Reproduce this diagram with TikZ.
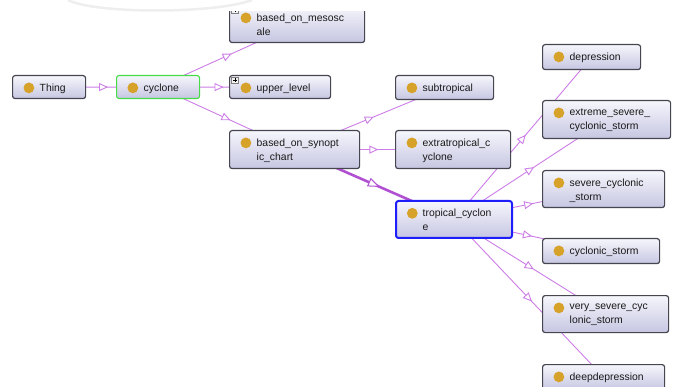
\documentclass[tikz,border=0pt]{standalone}
\usepackage{fontspec}
\setmainfont{Liberation Sans}
\usetikzlibrary{arrows.meta,decorations.markings}
\pgfdeclarelayer{background}
\pgfsetlayers{background,main}
\definecolor{bordc}{RGB}{70,70,80}
\definecolor{topc}{RGB}{246,246,252}
\definecolor{botc}{RGB}{198,198,226}
\definecolor{goldc}{RGB}{214,162,42}
\definecolor{edgec}{RGB}{204,125,230}
\definecolor{thickc}{RGB}{178,80,210}
\definecolor{greenc}{RGB}{70,220,70}
\definecolor{bluec}{RGB}{30,30,250}
\tikzset{
  cls/.style={draw=bordc, line width=1.2pt, rounded corners=2.5pt,
    top color=topc, bottom color=botc, anchor=north west, inner sep=0pt,
    path picture={\fill[goldc] ([xshift=16.3pt,yshift=-12.3pt]path picture bounding box.north west) circle (5.4pt);}},
  lbl/.style={anchor=north west, inner sep=0pt, align=left,
    font=\fontsize{10.4}{14.5}\selectfont, text=black!90,
    execute at begin node={\rule{0pt}{8pt}}},
  isa/.style={draw=edgec, line width=0.9pt, postaction={decorate},
    decoration={markings, mark=at position 0.5 with
      {\arrow[xshift=4.5pt]{Triangle[length=9pt,width=8pt,fill=white,line width=0.9pt]}}}},
  isathick/.style={draw=thickc, line width=2.6pt, postaction={decorate},
    decoration={markings, mark=at position 0.5 with
      {\arrow[xshift=6pt]{Triangle[length=12pt,width=9pt,fill=white,line width=1pt]}}}},
  plusbox/.style={draw=gray, fill=gray!10, line width=0.5pt}
}
\begin{document}
\begin{tikzpicture}[x=1pt,y=-1pt]
\useasboundingbox (0,0) rectangle (677,387);
% boxes
\node[cls, minimum width=73pt, minimum height=23pt] (thing) at (12,75) {};
\node[cls, draw=greenc, line width=1.1pt, minimum width=83pt, minimum height=23pt] (cyclone) at (116,75) {};
\node[cls, minimum width=135pt, minimum height=37pt] (meso) at (229,5) {};
\node[cls, minimum width=101pt, minimum height=23pt] (upper) at (229,75) {};
\node[cls, minimum width=130pt, minimum height=38pt] (synop) at (229,130) {};
\node[cls, minimum width=98pt, minimum height=24pt] (subtrop) at (395,75) {};
\node[cls, minimum width=115pt, minimum height=38pt] (extra) at (395,130) {};
\node[cls, draw=bluec, line width=2pt, minimum width=116pt, minimum height=37pt] (trop) at (395,200) {};
\node[cls, minimum width=98pt, minimum height=25pt] (depr) at (542,44) {};
\node[cls, minimum width=128pt, minimum height=38pt] (extreme) at (542,100) {};
\node[cls, minimum width=122pt, minimum height=37pt] (severe) at (542,170) {};
\node[cls, minimum width=117pt, minimum height=25pt] (cycstorm) at (542,238) {};
\node[cls, minimum width=126pt, minimum height=37pt] (vsevere) at (542,295) {};
\node[cls, minimum width=122pt, minimum height=25pt] (deep) at (542,364) {};
% labels
\node[lbl] (thing-t) at ([xshift=27.5pt,yshift=-8.5pt]thing.north west) {Thing};
\node[lbl] (cyclone-t) at ([xshift=27.5pt,yshift=-8.5pt]cyclone.north west) {cyclone};
\node[lbl] (meso-t) at ([xshift=27.5pt,yshift=-8.5pt]meso.north west) {based\_on\_mesosc\\ale};
\node[lbl] (upper-t) at ([xshift=27.5pt,yshift=-8.5pt]upper.north west) {upper\_level};
\node[lbl] (synop-t) at ([xshift=27.5pt,yshift=-8.5pt]synop.north west) {based\_on\_synopt\\ic\_chart};
\node[lbl] (subtrop-t) at ([xshift=27.5pt,yshift=-8.5pt]subtrop.north west) {subtropical};
\node[lbl] (extra-t) at ([xshift=27.5pt,yshift=-8.5pt]extra.north west) {extratropical\_c\\yclone};
\node[lbl] (trop-t) at ([xshift=27.5pt,yshift=-8.5pt]trop.north west) {tropical\_cyclon\\e};
\node[lbl] (depr-t) at ([xshift=27.5pt,yshift=-8.5pt]depr.north west) {depression};
\node[lbl] (extreme-t) at ([xshift=27.5pt,yshift=-8.5pt]extreme.north west) {extreme\_severe\_\\cyclonic\_storm};
\node[lbl] (severe-t) at ([xshift=27.5pt,yshift=-8.5pt]severe.north west) {severe\_cyclonic\\\_storm};
\node[lbl] (cycstorm-t) at ([xshift=27.5pt,yshift=-8.5pt]cycstorm.north west) {cyclonic\_storm};
\node[lbl] (vsevere-t) at ([xshift=27.5pt,yshift=-8.5pt]vsevere.north west) {very\_severe\_cyc\\lonic\_storm};
\node[lbl] (deep-t) at ([xshift=27.5pt,yshift=-8.5pt]deep.north west) {deepdepression};
% plus icons
\foreach \b in {upper,meso}{
  \draw[plusbox] ([shift={(2.5,2)}]\b.north west) rectangle ([shift={(9,8.5)}]\b.north west);
  \draw[black, line width=0.5pt] ([shift={(4,5.25)}]\b.north west) -- ([shift={(7.5,5.25)}]\b.north west)
    ([shift={(5.75,3.5)}]\b.north west) -- ([shift={(5.75,7)}]\b.north west);
}
% edges
\begin{pgfonlayer}{background}
\draw[isa] (thing.center) -- (cyclone.center);
\draw[isa] (cyclone.center) -- (meso.center);
\draw[isa] (cyclone.center) -- (upper.center);
\draw[isa] (cyclone.center) -- (synop.center);
\draw[isa] (synop.center) -- (subtrop.center);
\draw[isa] (synop.center) -- (extra.center);
\draw[isathick] (synop.center) -- (trop.center);
\draw[isa] (trop.center) -- (depr.center);
\draw[isa] (trop.center) -- (extreme.center);
\draw[isa] (trop.center) -- (severe.center);
\draw[isa] (trop.center) -- (cycstorm.center);
\draw[isa] (trop.center) -- (vsevere.center);
\draw[isa] (trop.center) -- (deep.center);
\end{pgfonlayer}
% top cover and faint arc
\fill[white] (220,-2) rectangle (375,11.5);
\draw[line width=2.5pt, gray!13] (68,0) .. controls (95,14) and (215,14) .. (252,0);
\end{tikzpicture}
\end{document}
